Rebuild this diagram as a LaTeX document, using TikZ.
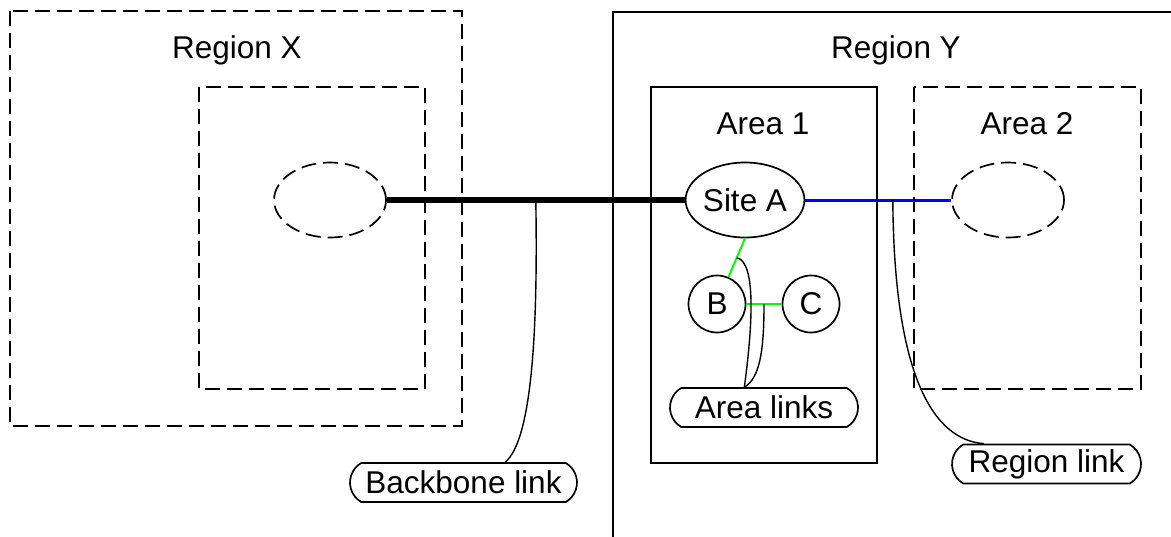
\documentclass[tikz,border=0pt]{standalone}
\usepackage{fontspec}
\setmainfont{Liberation Sans}
\usetikzlibrary{shapes.geometric,shapes.misc,calc}
\tikzset{>=latex}
\tikzset{
  dashbox/.style={draw,dash pattern=on 7.5pt off 3.5pt,line width=0.85pt},
  solidbox/.style={draw,line width=0.85pt},
  site/.style={ellipse,draw,line width=0.85pt,minimum width=56pt,minimum height=37.5pt,inner sep=0pt},
  ghost/.style={site,dash pattern=on 7.5pt off 3.5pt},
  subsite/.style={circle,draw,line width=0.85pt,minimum size=28.5pt,inner sep=0pt},
  tag/.style={rounded rectangle,rounded rectangle arc length=120,draw,line width=0.85pt,minimum height=19.5pt,inner sep=0pt},
  title/.style={inner sep=0pt},
  backbone/.style={line width=2.75pt},
  regionlink/.style={blue,line width=1.5pt},
  arealink/.style={green,line width=1pt},
  callout/.style={line width=0.7pt}
}
\begin{document}
\begin{tikzpicture}[x=0.5pt,y=-0.5pt,font=\fontsize{15.75}{18}\selectfont]
  \useasboundingbox (0,0) rectangle (1171,536);

  % Regions and areas
  \draw[dashbox] (10,11) rectangle (462,426);
  \draw[dashbox] (199,87) rectangle (425,389);
  \draw[solidbox] (613,540) -- (613,12) -- (1175,12);
  \draw[solidbox] (651,87) rectangle (877,463);
  \draw[dashbox] (914,87) rectangle (1141,389);
  \node[title] (regXn) at (237,50) {Region X};
  \node[title] (regYn) at (896,50) {Region Y};
  \node[title] (ar1n) at (763,124) {Area 1};
  \node[title] (ar2n) at (1027,124) {Area 2};

  % Sites
  \node[ghost] (sX) at (330,200) {};
  \node[site] (sA) at (745,200) {Site A};
  \node[subsite] (sB) at (717,304) {B};
  \node[subsite] (sC) at (811,304) {C};
  \node[ghost] (s2) at (1008,200) {};

  % Links
  \draw[backbone] (sX.east) -- (sA.west) coordinate[pos=0.5] (bbtap);
  \draw[regionlink] (sA.east) -- (s2.west) coordinate[pos=0.6] (rgtap);
  \draw[arealink] (sA.south) -- (sB) coordinate[pos=0.5] (abtap);
  \draw[arealink] (sB) -- (sC) coordinate[pos=0.5] (bctap);

  % Labels
  \node[tag,minimum width=113.5pt] (bbn) at (463.5,482.5) {Backbone link};
  \node[tag,minimum width=94pt] (arn) at (764,407.5) {Area links};
  \node[tag,minimum width=94.5pt] (rgn) at (1046.5,464) {Region link};
  \draw[callout] (bbtap) .. controls (538,330) and (532,440) .. (bbn.26);
  \draw[callout] (abtap) .. controls (757,262) and (752,330) .. (arn.134);
  \draw[callout] (bctap) .. controls (764,350) and (760,378) .. (arn.134);
  \draw[callout] (rgtap) .. controls (894,380) and (935,440) .. (rgn.162);
\end{tikzpicture}
\end{document}
